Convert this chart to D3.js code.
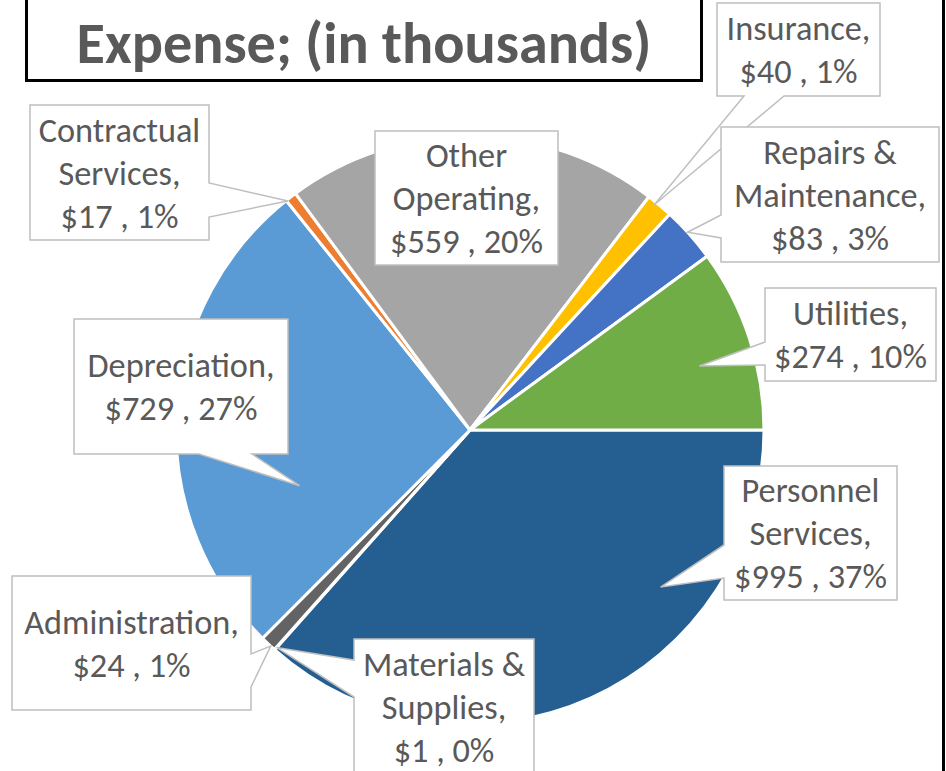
<!DOCTYPE html>
<html>
<head>
<meta charset="utf-8">
<script src="https://cdn.jsdelivr.net/npm/d3@7"></script>
<style>
  html, body { margin: 0; padding: 0; background: #fff; }
  svg { display: block; }
</style>
</head>
<body>
<div id="chart"></div>
<script>
// data (in thousands)
var categories = ["Personnel\nServices", "Materials &\nSupplies", "Administration", "Depreciation",
                  "Contractual\nServices", "Other\nOperating", "Insurance", "Repairs &\nMaintenance", "Utilities"];
var values = [995, 1, 24, 729, 17, 559, 40, 83, 274];
var percents = [37, 0, 1, 27, 1, 20, 1, 3, 10];   // as printed on the labels
var colors = ["#255E91", "#997300", "#636363", "#5B9BD5", "#ED7D31", "#A5A5A5", "#FFC000", "#4472C4", "#70AD47"];
var titleText = "Expense; (in thousands)";

// callout placement: box [x, y, w, h], side the pointer leaves from, its base, tip (t along slice, radius fraction)
var callouts = [
  { box: [724, 466, 173, 134], side: "left",   base: [545, 578], tip: [0.30, 0.84] },
  { box: [354, 639, 180, 135], side: "left",   base: [660, 697], tip: [0.5, 0.99] },
  { box: [12, 576, 239, 134],  side: "right",  base: [654, 687], tip: [0.3, 1.0] },
  { box: [74, 319, 214, 135],  side: "bottom", base: [199, 252], tip: [0.28, 0.61] },
  { box: [30, 105, 179, 135],  side: "right",  base: [183, 217], tip: [0.1, 0.995] },
  { box: [375, 131, 183, 134], side: null },
  { box: [717, 3, 163, 93],    side: "bottom", base: [744, 784], tip: [0.34, 0.99] },
  { box: [721, 127, 218, 135], side: "left",   base: [215, 238], tip: [0.45, 1.0] },
  { box: [765, 288, 171, 93],  side: "left",   base: [342, 365], tip: [0.57, 0.81] }
];

var width = 946, height = 771;
var cx = 470, cy = 430, radius = 294;
var fontStack = "Calibri, Carlito, Lato, 'Open Sans', sans-serif";

var svg = d3.select("#chart").append("svg").attr("width", width).attr("height", height);

// fit font sizes so the substitute font spans about what Calibri does
function fitSize(str, target, weight) {
  var t = svg.append("text").attr("font-family", fontStack).attr("font-size", 100)
    .attr("font-weight", weight).text(str);
  var w = t.node().getComputedTextLength();
  t.remove();
  return 100 * target / w;
}
var labelSize = fitSize("Depreciation,", 187, "normal");
var titleSize = fitSize(titleText, 575, "bold");

var pie = d3.pie().sort(null).value(function(d) { return d; })
  .startAngle(Math.PI / 2).endAngle(Math.PI / 2 + 2 * Math.PI);
var arcs = pie(values);
var arc = d3.arc().innerRadius(0).outerRadius(radius);

var g = svg.append("g").attr("transform", "translate(" + cx + "," + cy + ")");
g.selectAll("path").data(arcs).enter().append("path")
  .attr("d", arc)
  .attr("fill", function(d, i) { return colors[i]; })
  .attr("stroke", "#fff")
  .attr("stroke-width", 3)
  .attr("stroke-linejoin", "round");

function tipPoint(a, tip) {
  var ang = a.startAngle + tip[0] * (a.endAngle - a.startAngle);
  var r = radius * tip[1];
  return [cx + r * Math.sin(ang), cy - r * Math.cos(ang)];
}

function calloutPath(c, tp) {
  var x = c.box[0], y = c.box[1], w = c.box[2], h = c.box[3];
  var pts = [[x, y], [x + w, y]];
  if (c.side === "right") pts.push([x + w, c.base[0]], tp, [x + w, c.base[1]]);
  pts.push([x + w, y + h]);
  if (c.side === "bottom") pts.push([c.base[1], y + h], tp, [c.base[0], y + h]);
  pts.push([x, y + h]);
  if (c.side === "left") pts.push([x, c.base[1]], tp, [x, c.base[0]]);
  return d3.line()(pts) + "Z";
}

var lineH = 43;
var labels = svg.append("g");
arcs.forEach(function(a, i) {
  var c = callouts[i];
  var tp = c.side ? tipPoint(a, c.tip) : null;
  labels.append("path")
    .attr("d", calloutPath(c, tp))
    .attr("fill", "#fff")
    .attr("stroke", "#BFBFBF")
    .attr("stroke-width", 1.5);

  var lines = (categories[i] + ",").split("\n");
  lines.push("$" + values[i] + " , " + percents[i] + "%");
  var mx = c.box[0] + c.box[2] / 2, my = c.box[1] + c.box[3] / 2;
  var t = labels.append("text")
    .attr("font-family", fontStack)
    .attr("font-size", labelSize)
    .attr("fill", "#595959")
    .attr("text-anchor", "middle");
  lines.forEach(function(s, k) {
    t.append("tspan")
      .attr("x", mx)
      .attr("y", my + (k - (lines.length - 1) / 2) * lineH)
      .attr("dy", "0.35em")
      .text(s);
  });
});

// title box (its upper line is cut off by the frame)
svg.append("rect")
  .attr("x", 26.5).attr("y", -20).attr("width", 675).attr("height", 100.5)
  .attr("fill", "#fff").attr("stroke", "#000").attr("stroke-width", 3);
svg.append("text")
  .attr("x", 364).attr("y", 63)
  .attr("text-anchor", "middle")
  .attr("font-family", fontStack)
  .attr("font-weight", "bold")
  .attr("font-size", titleSize)
  .attr("fill", "#595959")
  .text(titleText);

// chart frame edge on the right
svg.append("line")
  .attr("x1", 943.5).attr("x2", 943.5).attr("y1", 0).attr("y2", height)
  .attr("stroke", "#000").attr("stroke-width", 3);
</script>
</body>
</html>
